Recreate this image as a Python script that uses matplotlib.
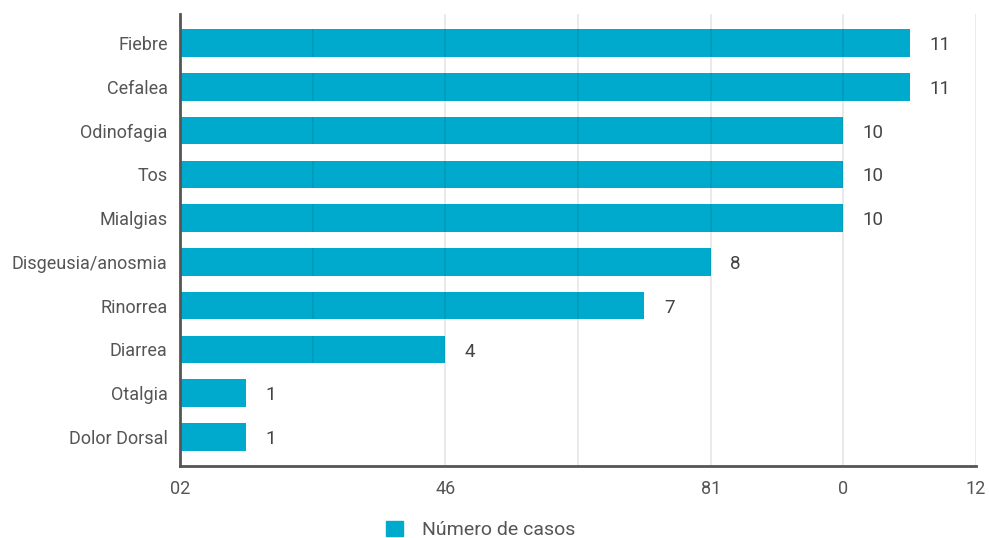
import numpy as np
import matplotlib
matplotlib.use('Agg')
from matplotlib import pyplot as plt
from matplotlib.patches import Patch

plt.rcParams['font.family'] = ['Roboto', 'DejaVu Sans']

categories = ['Fiebre', 'Cefalea', 'Odinofagia', 'Tos', 'Mialgias',
              'Disgeusia/anosmia', 'Rinorrea', 'Diarrea', 'Otalgia', 'Dolor Dorsal']
casos = [11, 11, 10, 10, 10, 8, 7, 4, 1, 1]
tick_pos = [0, 4, 8, 10, 12]
tick_labels = ['02', '46', '81', '0', '12']
grid_pos = [2, 4, 6, 8, 10, 12]

bar_color = '#00aacc'
text_color = '#555555'

fig = plt.figure(figsize=(9.89, 5.38), dpi=100)
ax = fig.add_axes([180/989, 1 - 466/538, 796/989, 452/538])

y = np.arange(len(categories))
bh = 0.63
ax.barh(y, casos, height=bh, color=bar_color, zorder=2)

# grid drawn over the bars, semi-transparent
for g in grid_pos:
    if g == 2:
        # faint line only visible where it crosses bars
        for yi, v in zip(y, casos):
            if v > g:
                ax.vlines(g, yi - bh/2, yi + bh/2, color='black', alpha=0.09, lw=1.3, zorder=3)
    else:
        ax.axvline(g, color='black', alpha=0.09, lw=1.3, zorder=3)

for yi, v in zip(y, casos):
    ax.annotate(str(v), (v, yi), xytext=(14, -1.5), textcoords='offset points',
                ha='left', va='center', fontsize=13.5, color='#444444')

ax.set_xlim(0, 12)
ax.set_ylim(len(categories) - 1 + 0.66, -0.66)
ax.set_yticks(y)
ax.set_yticklabels(categories, fontsize=13, color=text_color)
ax.set_xticks(tick_pos)
ax.set_xticklabels(tick_labels, fontsize=13, color=text_color)
ax.tick_params(axis='both', length=0)
ax.tick_params(axis='y', pad=9)
ax.tick_params(axis='x', pad=10)

for s in ['top', 'right']:
    ax.spines[s].set_visible(False)
for s in ['left', 'bottom']:
    ax.spines[s].set_color('#555555')
    ax.spines[s].set_linewidth(2)
    ax.spines[s].set_zorder(4)

leg = fig.legend(handles=[Patch(color=bar_color, label='Número de casos')],
                 loc='center', bbox_to_anchor=(481/989, 1 - 530/538), frameon=False,
                 fontsize=14, handlelength=0.85, handleheight=0.85, handletextpad=1.0)
for t in leg.get_texts():
    t.set_color(text_color)

fig.savefig('out.png', dpi=100)
